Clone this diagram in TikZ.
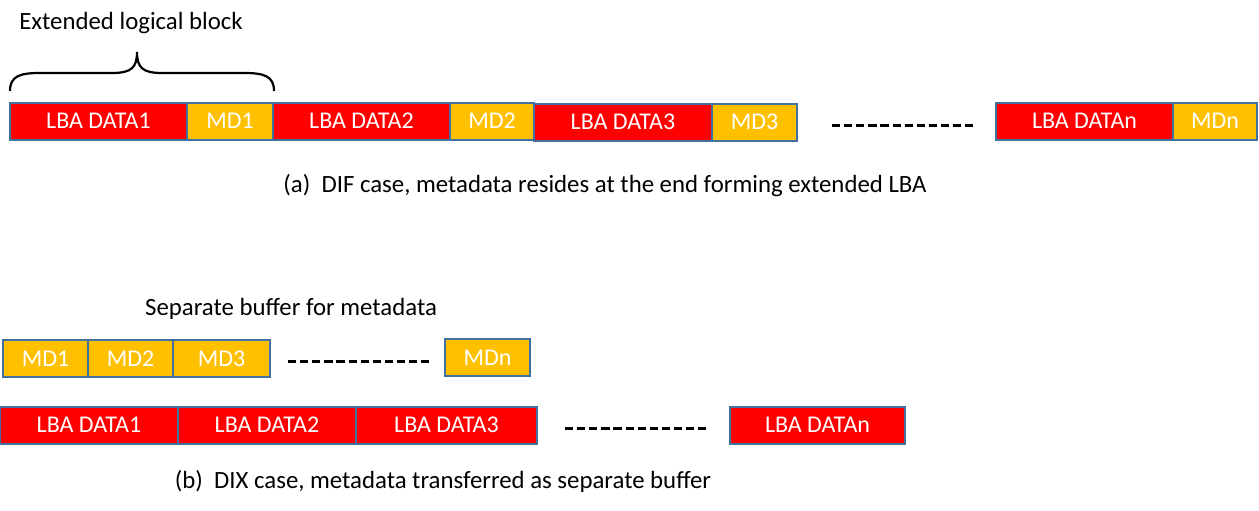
\documentclass[tikz,border=0pt]{standalone}
\usepackage{fontspec}
\setmainfont{Carlito}
\definecolor{lbared}{HTML}{FF0000}
\definecolor{mdyel}{HTML}{FFC000}
\definecolor{bord}{HTML}{41719C}
\begin{document}
\begin{tikzpicture}[x=1pt,y=-1pt,
  blk/.style={draw=bord,line width=2pt,minimum height=37pt,inner sep=0pt,text=white,font=\fontsize{24}{28}\selectfont},
  lba/.style={blk,fill=lbared},
  md/.style={blk,fill=mdyel},
  lbl/.style={inner sep=0pt,font=\fontsize{24.8}{29}\selectfont},
  dots/.style={line width=3pt,dash pattern=on 8.2pt off 3.9pt}
]
\useasboundingbox (0,0) rectangle (1259,511);
% row (a)
\node[lba,minimum width=177pt] (a1) at (98.5,121) {LBA DATA1};
\node[md,minimum width=86pt] (m1) at (230,121) {MD1};
\node[lba,minimum width=177pt] (a2) at (361.5,121) {LBA DATA2};
\node[md,minimum width=84pt] (m2) at (492,121) {MD2};
\node[lba,minimum width=178pt] (a3) at (623,122) {LBA DATA3};
\node[md,minimum width=85pt] (m3) at (754.5,122) {MD3};
\node[lba,minimum width=177pt] (an) at (1084.5,121) {LBA DATAn};
\node[md,minimum width=84pt] (mn) at (1215,121) {MDn};
\coordinate (da1) at (832,125);
\coordinate (da2) at (973.5,125);
\draw[dots] (da1) -- (da2);
% brace
\draw[line width=2.2pt] (10,91) .. controls (10,76) and (20,73) .. (40,73) -- (112,73) .. controls (131,73) and (137,68) .. (137,52) .. controls (137,68) and (143,73) .. (162,73) -- (244,73) .. controls (264,73) and (274,76) .. (274,91);
\node[lbl] (ext) at (131,23) {Extended logical block};
\node[lbl] (capa) at (605,186) {(a)\ \ DIF case, metadata resides at the end forming extended LBA};
% row (b)
\node[lbl] (sep) at (291,309) {Separate buffer for metadata};
\node[md,minimum width=85pt] (b1) at (45.5,358.5) {MD1};
\node[md,minimum width=85pt] (b2) at (130.5,358.5) {MD2};
\node[md,minimum width=97pt] (b3) at (221.5,358.5) {MD3};
\node[md,minimum width=85pt] (bn) at (487.5,357.5) {MDn};
\coordinate (db1) at (288,361);
\coordinate (db2) at (429.5,361);
\draw[dots] (db1) -- (db2);
\node[lba,minimum width=178pt] (c1) at (89,425) {LBA DATA1};
\node[lba,minimum width=178pt] (c2) at (267,425) {LBA DATA2};
\node[lba,minimum width=181pt] (c3) at (446.5,425) {LBA DATA3};
\node[lba,minimum width=175pt] (cn) at (817.5,425) {LBA DATAn};
\coordinate (dc1) at (565,428);
\coordinate (dc2) at (706.5,428);
\draw[dots] (dc1) -- (dc2);
\node[lbl] (capb) at (443,481) {(b)\ \ DIX case, metadata transferred as separate buffer};
\end{tikzpicture}
\end{document}
